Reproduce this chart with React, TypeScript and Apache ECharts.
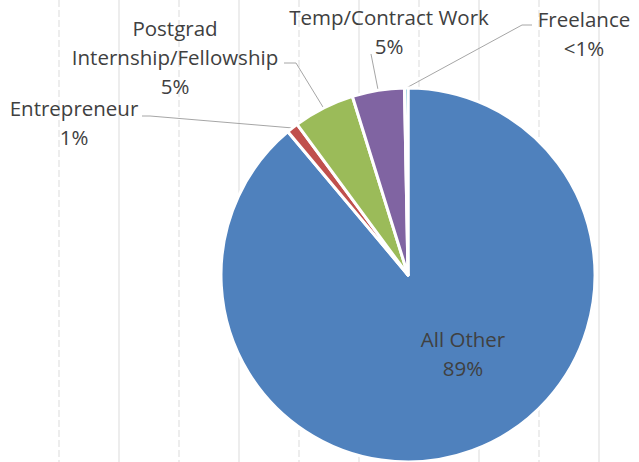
import React, { useEffect, useRef } from "react";
import * as echarts from "echarts";

const categories = ["All Other", "Entrepreneur", "Postgrad\nInternship/Fellowship", "Temp/Contract Work", "Freelance"];
const values = [88.9, 1.0, 5.3, 4.5, 0.3];
const colors = ["#4F81BD", "#C0504D", "#9BBB59", "#8064A2", "#4BACC6"];

// label anchor positions (center x, middle y) and leader-line bends
const labelPos: [number, number][] = [
  [463, 353],
  [74, 122],
  [175, 57],
  [389, 31],
  [584, 33],
];
const leaderBends: [number, number][][] = [
  [],
  [[150, 116], [142, 116]],
  [[296, 63], [284, 63]],
  [[371, 54], [371, 54]],
  [[522, 25], [532, 25]],
];

const gridXs = [59, 119, 179, 239, 299, 359, 419, 479, 539, 599];

export default function App() {
  const ref = useRef<HTMLDivElement>(null);
  useEffect(() => {
    if (!ref.current) return;
    const chart = echarts.init(ref.current, undefined, { renderer: "svg" });
    const font = "'Open Sans', sans-serif";
    chart.setOption({
      animation: false,
      backgroundColor: "#ffffff",
      graphic: gridXs.map((x, i) => ({
        type: "line",
        z: -10,
        silent: true,
        shape: { x1: x, y1: 0, x2: x, y2: 462 },
        style: {
          stroke: "#ededed",
          lineWidth: 2,
          lineDash: i % 2 === 0 ? [7, 3] : null,
        },
      })),
      series: [
        {
          type: "pie",
          center: [408, 275],
          radius: 187,
          startAngle: 90,
          clockwise: true,
          avoidLabelOverlap: false,
          itemStyle: { borderColor: "#ffffff", borderWidth: 3 },
          data: categories.map((name, i) => ({
            name,
            value: values[i],
            itemStyle: { color: colors[i] },
            label: i === 0 ? { position: "inside" } : { position: "outside" },
            labelLine: { show: i !== 0 },
          })),
          label: {
            show: true,
            fontFamily: font,
            fontSize: 20.5,
            lineHeight: 29,
            color: "#404040",
            align: "center",
            formatter: (p: any) =>
              p.name + "\n" + (p.percent < 1 ? "<1%" : Math.round(p.percent) + "%"),
          },
          labelLine: {
            show: true,
            length: 10,
            length2: 10,
            lineStyle: { color: "#a6a6a6", width: 1 },
          },
          labelLayout: (params: any) => {
            const i = params.dataIndex;
            const [x, y] = labelPos[i];
            const res: any = { x, y, align: "center", verticalAlign: "middle" };
            if (i !== 0 && params.labelLinePoints) {
              const start = params.labelLinePoints[0];
              res.labelLinePoints = [start, leaderBends[i][0], leaderBends[i][1]];
            }
            return res;
          },
        },
      ],
    });
    return () => chart.dispose();
  }, []);
  return (
    <div
      ref={ref}
      style={{ position: "fixed", left: 0, top: 0, width: 639, height: 462 }}
    />
  );
}
